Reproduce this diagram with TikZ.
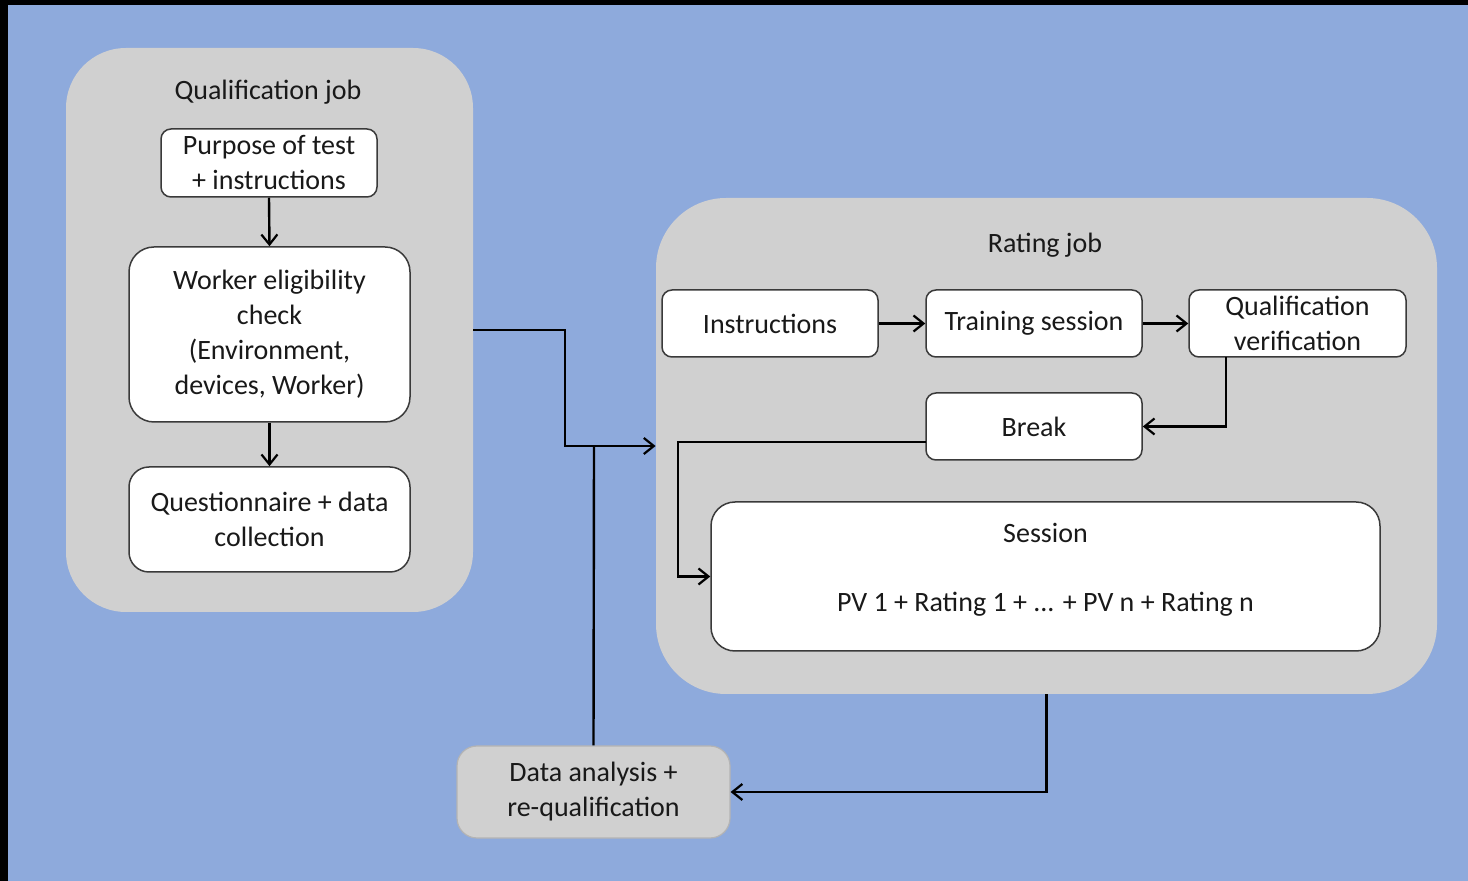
\documentclass[tikz,border=0pt]{standalone}
\usepackage{fontspec}
\setmainfont{Carlito}
\usetikzlibrary{arrows.meta,calc}
\definecolor{bgblue}{HTML}{8EAADC}
\definecolor{contgray}{HTML}{D0D0D0}
\definecolor{boxline}{HTML}{3A3A3A}
\definecolor{dagray}{HTML}{B4B4B4}
\begin{document}
\begin{tikzpicture}[x=0.5pt,y=-0.5pt,
  every node/.style={font=\fontsize{14}{17.5}\selectfont, text=black!90},
  container/.style={fill=contgray, draw=none, inner sep=0pt},
  wbox/.style={fill=white, draw=boxline, line width=0.75pt, align=center, inner sep=0pt},
  dabox/.style={fill=contgray, draw=dagray, line width=0.6pt, align=center, inner sep=0pt},
  title/.style={inner sep=0pt},
  conn/.style={draw=black, line width=1.2pt},
  arr/.style={conn, -{Straight Barb[length=5pt,width=8pt,line width=1.1pt]}}
]
\useasboundingbox (0,0) rectangle (1468,881);
\fill[black] (0,0) rectangle (1468,881);
\fill[bgblue] (8,5) rectangle (1468,881);

% containers
\node[container, rounded corners=30pt, minimum width=203.5pt, minimum height=282pt] (qual) at (269.5,330) {};
\node[container, rounded corners=35pt, minimum width=390.5pt, minimum height=248pt] (rate) at (1046.5,446) {};

\node[title] (qualt) at (268,92) {Qualification job};
\node[title] (ratet) at (1045,245) {Rating job};

% qualification job boxes
\node[wbox, rounded corners=5pt, minimum width=108pt, minimum height=34pt] (purp) at (269,163) {Purpose of test\\+ instructions};
\node[wbox, rounded corners=12.5pt, minimum width=140.5pt, minimum height=87.5pt] (elig) at (269.5,334.5) {Worker eligibility\\check\\(Environment,\\devices, Worker)};
\node[wbox, rounded corners=10pt, minimum width=140.5pt, minimum height=52.5pt] (quest) at (269.5,519.5) {Questionnaire + data\\collection};

% rating job boxes
\node[wbox, rounded corners=5pt, minimum width=108pt, minimum height=33.5pt] (instr) at (770,323.5) {Instructions};
\node[wbox, rounded corners=5pt, minimum width=108pt, minimum height=33.5pt] (train) at (1034,323.5) {Training session};
\node[wbox, rounded corners=5pt, minimum width=108.5pt, minimum height=33.5pt] (qver) at (1297.5,323.5) {Qualification\\verification};
\node[wbox, rounded corners=5pt, minimum width=108pt, minimum height=33.5pt] (brk) at (1034,426.5) {Break};
\node[wbox, rounded corners=12pt, minimum width=334.5pt, minimum height=74.5pt] (sess) at (1045.5,576.5) {};
\node[title] (sesst) at (1045.5,533) {Session};
\node[title] (sessc) at (1045.5,604) {PV 1 + Rating 1 + ... + PV n + Rating n};

% data analysis
\node[dabox, rounded corners=10pt, minimum width=136.5pt, minimum height=46pt] (da) at (593.5,792) {Data analysis +\\re-qualification};

% connectors
\draw[arr] (purp.south) -- (elig.north);
\draw[arr] (elig.south) -- (quest.north);
\coordinate (join) at (594,446);
\draw[arr] (qual.east) -- (565,330) -- (565,446) -- (rate.west);
\draw[conn] (da.north) -- (join);
\draw[arr] (instr.east) -- (train.west);
\draw[arr] (train.east) -- (qver.west);
\coordinate (qvb) at (1226,357);
\draw[arr] (qvb) -- (qvb |- brk.east) -- (brk.east);
\coordinate (brkl) at (926,442);
\draw[arr] (brkl) -- (678,442) -- (678,576.5) -- (sess.west);
\draw[arr] (rate.south) -- (rate.south |- da.east) -- (da.east);
\end{tikzpicture}
\end{document}
